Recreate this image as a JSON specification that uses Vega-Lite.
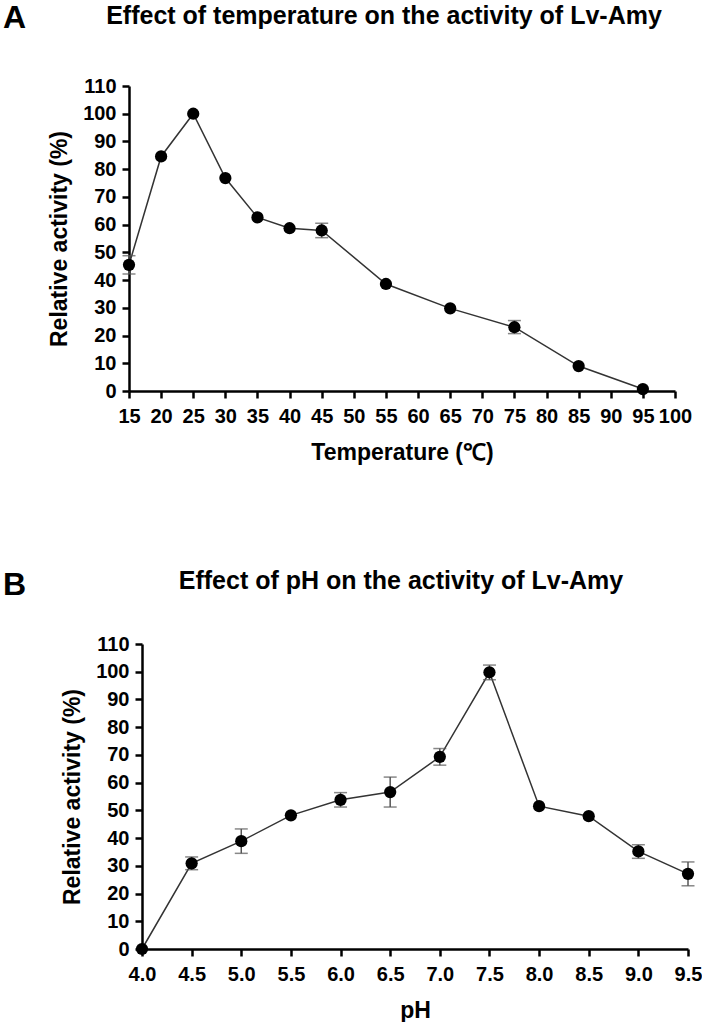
{
  "$schema": "https://vega.github.io/schema/vega-lite/v6.json",
  "padding": {"left": 3, "top": 2, "right": 0, "bottom": 0},
  "background": "white",
  "config": {
    "font": "Liberation Sans",
    "view": {"stroke": null},
    "axis": {
      "labelFont": "Liberation Sans",
      "labelFontSize": 20,
      "labelFontWeight": "bold",
      "labelColor": "black",
      "titleFont": "Liberation Sans",
      "titleFontSize": 23,
      "titleFontWeight": "bold",
      "titleColor": "black",
      "domainColor": "black",
      "domainWidth": 2.5,
      "tickColor": "black",
      "tickWidth": 2.5,
      "tickSize": 7,
      "grid": false,
      "labelOverlap": false,
      "labelFlush": false
    },
    "axisX": {"labelPadding": 8, "titlePadding": 15},
    "axisY": {"labelPadding": 6, "titlePadding": 11}
  },
  "datasets": {
    "temp": [
      {"t": 15, "v": 45.5, "lo": 42.2, "hi": 48.8},
      {"t": 20, "v": 84.6},
      {"t": 25, "v": 100},
      {"t": 30, "v": 76.8},
      {"t": 35, "v": 62.6},
      {"t": 40, "v": 58.7},
      {"t": 45, "v": 57.9, "lo": 55.3, "hi": 60.5},
      {"t": 55, "v": 38.6},
      {"t": 65, "v": 29.8},
      {"t": 75, "v": 23.0, "lo": 20.7, "hi": 25.4},
      {"t": 85, "v": 9.0},
      {"t": 95, "v": 0.7}
    ],
    "ph": [
      {"p": 4.0, "v": 0},
      {"p": 4.5, "v": 30.9, "lo": 28.6, "hi": 33.2},
      {"p": 5.0, "v": 38.9, "lo": 34.5, "hi": 43.3},
      {"p": 5.5, "v": 48.2},
      {"p": 6.0, "v": 53.8, "lo": 51.2, "hi": 56.4},
      {"p": 6.5, "v": 56.6, "lo": 51.2, "hi": 62.0},
      {"p": 7.0, "v": 69.3, "lo": 66.3, "hi": 72.3},
      {"p": 7.5, "v": 99.8, "lo": 97.1, "hi": 102.4},
      {"p": 8.0, "v": 51.5},
      {"p": 8.5, "v": 47.9},
      {"p": 9.0, "v": 35.2, "lo": 32.7, "hi": 37.6},
      {"p": 9.5, "v": 27.1, "lo": 22.8, "hi": 31.4}
    ]
  },
  "align": "none",
  "spacing": 105,
  "vconcat": [
    {
      "title": {"text": "A", "anchor": "start", "frame": "group", "font": "Liberation Sans Narrow, Liberation Sans", "fontSize": 32, "fontWeight": "bold", "color": "black", "offset": -31, "dx": 0},
      "spacing": 44,
      "hconcat": [
        {"width": 1, "height": 305, "data": {"values": []}, "mark": "point"},
        {
          "width": 546,
          "height": 305,
          "title": {"text": "Effect of temperature on the activity of Lv-Amy", "font": "Liberation Sans", "fontSize": 25, "fontWeight": "bold", "color": "black", "anchor": "middle", "frame": "group", "offset": 47, "dx": -18},
          "data": {"name": "temp"},
          "encoding": {
            "x": {"field": "t", "type": "quantitative", "scale": {"domain": [15, 100], "nice": false, "zero": false},
                  "axis": {"values": [15, 20, 25, 30, 35, 40, 45, 50, 55, 60, 65, 70, 75, 80, 85, 90, 95, 100], "title": "Temperature (℃)"}},
            "y": {"field": "v", "type": "quantitative", "scale": {"domain": [0, 110], "nice": false},
                  "axis": {"values": [0, 10, 20, 30, 40, 50, 60, 70, 80, 90, 100, 110], "title": "Relative activity (%)"}}
          },
          "layer": [
            {"mark": {"type": "line", "color": "#333333", "strokeWidth": 1.5}},
            {
              "transform": [{"filter": "isValid(datum.lo)"}],
              "mark": {"type": "errorbar", "color": "#555555", "thickness": 1.5, "ticks": {"size": 13, "thickness": 1.5, "color": "#555555"}},
              "encoding": {
                "y": {"field": "lo", "type": "quantitative", "title": "Relative activity (%)"},
                "y2": {"field": "hi"}
              }
            },
            {"mark": {"type": "point", "filled": true, "size": 150, "color": "black", "opacity": 1}}
          ]
        }
      ]
    },
    {
      "title": {"text": "B", "anchor": "start", "frame": "group", "font": "Liberation Sans Narrow, Liberation Sans", "fontSize": 32, "fontWeight": "bold", "color": "black", "offset": -33, "dx": 0},
      "spacing": 57,
      "hconcat": [
        {"width": 1, "height": 305, "data": {"values": []}, "mark": "point"},
        {
          "width": 546,
          "height": 305,
          "title": {"text": "Effect of pH on the activity of Lv-Amy", "font": "Liberation Sans", "fontSize": 25, "fontWeight": "bold", "color": "black", "anchor": "middle", "frame": "group", "offset": 40, "dx": -14},
          "data": {"name": "ph"},
          "encoding": {
            "x": {"field": "p", "type": "quantitative", "scale": {"domain": [4, 9.5], "nice": false, "zero": false},
                  "axis": {"values": [4, 4.5, 5, 5.5, 6, 6.5, 7, 7.5, 8, 8.5, 9, 9.5], "format": ".1f", "title": "pH"}},
            "y": {"field": "v", "type": "quantitative", "scale": {"domain": [0, 110], "nice": false},
                  "axis": {"values": [0, 10, 20, 30, 40, 50, 60, 70, 80, 90, 100, 110], "title": "Relative activity (%)"}}
          },
          "layer": [
            {"mark": {"type": "line", "color": "#333333", "strokeWidth": 1.5}},
            {
              "transform": [{"filter": "isValid(datum.lo)"}],
              "mark": {"type": "errorbar", "color": "#555555", "thickness": 1.5, "ticks": {"size": 13, "thickness": 1.5, "color": "#555555"}},
              "encoding": {
                "y": {"field": "lo", "type": "quantitative", "title": "Relative activity (%)"},
                "y2": {"field": "hi"}
              }
            },
            {"mark": {"type": "point", "filled": true, "size": 150, "color": "black", "opacity": 1}}
          ]
        }
      ]
    }
  ]
}
